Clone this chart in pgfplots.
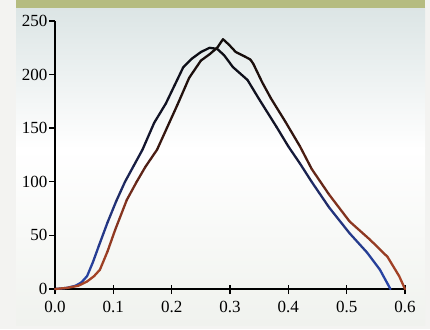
\documentclass[border=0pt]{standalone}
\usepackage{pgfplots}
\pgfplotsset{compat=1.18}
\usepackage{fontspec}
\setmainfont{Liberation Serif}
\definecolor{bandgreen}{RGB}{181,188,128}
\definecolor{bgtop}{RGB}{220,229,229}
\definecolor{bgbot}{RGB}{240,242,238}
\definecolor{paneloutside}{RGB}{243,243,241}
\pgfplotsset{
  colormap={bluemap}{rgb255(0cm)=(40,70,170); rgb255(3cm)=(35,50,120); rgb255(5.5cm)=(20,22,45); rgb255(10cm)=(10,10,12)},
  colormap={redmap}{rgb255(0cm)=(170,70,40); rgb255(3cm)=(130,50,30); rgb255(6cm)=(45,20,15); rgb255(10cm)=(12,10,10)}
}
\begin{document}
\begin{tikzpicture}
\useasboundingbox (0pt,0pt) rectangle (430pt,329pt);
\fill[paneloutside] (0pt,0pt) rectangle (430pt,329pt);
\shade[top color=white, bottom color=bgbot] (16pt,4pt) rectangle (425pt,180pt);
\shade[top color=bgtop, bottom color=white] (16pt,180pt) rectangle (425pt,321pt);
\fill[bandgreen] (16pt,321pt) rectangle (425pt,329pt);
\begin{scope}[x=1pt,y=1pt]
\foreach \k in {1,...,6}
  {\draw[black, line width=1.4pt] ({55+58.333*\k},44) -- ({55+58.333*\k},35);}
\foreach \k in {0,...,5}
  {\draw[black, line width=1.4pt] (55,{40+53.6*\k}) -- (49,{40+53.6*\k});}
\end{scope}
\begin{axis}[
  at={(55pt,40pt)}, anchor=origin,
  scale only axis, width=350pt, height=268pt,
  xmin=0, xmax=0.6, ymin=0, ymax=250,
  axis x line=bottom, axis y line=left,
  axis line style={-, line width=1.6pt, black},
  xtick={0,0.1,0.2,0.3,0.4,0.5,0.6},
  xticklabels={0.0,0.1,0.2,0.3,0.4,0.5,0.6},
  ytick={0,50,100,150,200,250},
  tick align=outside,
  major tick length=5pt,
  every tick/.style={draw=black, line width=1.3pt},
  /pgf/number format/assume math mode=true,
  tick label style={font=\fontsize{17}{17}\selectfont},
  x tick label style={yshift=-4pt},
  y tick label style={xshift=1pt},
  point meta min=0, point meta max=250,
  clip=false,
]
\addplot[mesh, colormap name=bluemap, point meta=y, line width=2.3pt, line cap=round, line join=round] coordinates {
(0,0) (0.02,1) (0.035,3) (0.045,6) (0.055,12) (0.065,25) (0.075,40) (0.09,62)
(0.105,82) (0.12,100) (0.135,115) (0.15,130) (0.17,155) (0.19,173) (0.205,190)
(0.22,207) (0.235,215) (0.25,221) (0.265,225) (0.278,224) (0.29,218) (0.305,207)
(0.33,195) (0.35,177) (0.38,151) (0.40,133) (0.42,117) (0.44,100) (0.47,76)
(0.505,52) (0.535,34) (0.557,18) (0.57,5) (0.575,0)
};
\addplot[mesh, colormap name=redmap, point meta=y, line width=2.3pt, line cap=round, line join=round] coordinates {
(0,0) (0.02,1) (0.04,3) (0.055,7) (0.067,12) (0.077,18) (0.09,35) (0.103,55)
(0.123,83) (0.14,100) (0.155,114) (0.175,130) (0.19,148) (0.21,172) (0.23,197)
(0.25,213) (0.265,219) (0.278,225) (0.288,233) (0.298,228) (0.31,221) (0.325,217)
(0.335,214) (0.34,210) (0.355,193) (0.37,178) (0.395,156) (0.42,133) (0.44,112)
(0.47,88) (0.505,63) (0.54,46) (0.57,30) (0.59,12) (0.6,0)
};
\end{axis}
\end{tikzpicture}
\end{document}
